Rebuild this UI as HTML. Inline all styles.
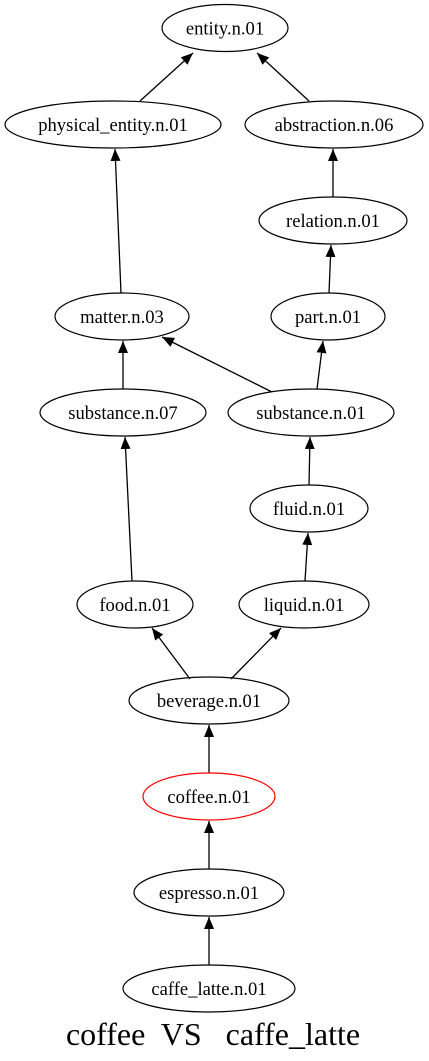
<!DOCTYPE html>
<html><head><meta charset="utf-8"><style>
html,body{margin:0;padding:0;background:#fff;}
svg{display:block;}
text{font-family:"Liberation Serif",serif;font-size:18.6px;}
</style></head><body>
<svg width="429" height="1061" viewBox="0 0 429 1061" xmlns="http://www.w3.org/2000/svg">
<defs><marker id="a" markerUnits="userSpaceOnUse" markerWidth="12" markerHeight="10" refX="12" refY="5" orient="auto"><path d="M0,0 L12,5 L0,10 z" fill="#000"/></marker></defs>
<g stroke="#000" stroke-width="1.3" fill="none" marker-end="url(#a)">
<line x1="140" y1="101" x2="193" y2="53"/>
<line x1="309" y1="101" x2="257" y2="53"/>
<line x1="121" y1="293" x2="115" y2="149"/>
<line x1="333" y1="197" x2="333" y2="149"/>
<line x1="329" y1="293" x2="331" y2="245"/>
<line x1="123" y1="389" x2="123" y2="341"/>
<line x1="272" y1="392" x2="162" y2="337"/>
<line x1="317" y1="389" x2="323" y2="341"/>
<line x1="309" y1="485" x2="310" y2="437"/>
<line x1="132" y1="581" x2="125" y2="437"/>
<line x1="305" y1="581" x2="308" y2="533"/>
<line x1="190" y1="679" x2="152" y2="628"/>
<line x1="231" y1="679" x2="281" y2="628"/>
<line x1="209" y1="773" x2="209" y2="725"/>
<line x1="209" y1="869" x2="209" y2="821"/>
<line x1="209" y1="965" x2="209" y2="917"/>
</g>
<g stroke="#000" stroke-width="1.2" fill="none">
<ellipse cx="225" cy="28" rx="63" ry="23.5"/>
<ellipse cx="113" cy="124.5" rx="108" ry="23.5"/>
<ellipse cx="334" cy="124.5" rx="89" ry="23.5"/>
<ellipse cx="333" cy="220.5" rx="74" ry="23.5"/>
<ellipse cx="122" cy="316.5" rx="67" ry="23.5"/>
<ellipse cx="328" cy="316.5" rx="57" ry="23.5"/>
<ellipse cx="123" cy="412.5" rx="83" ry="23.5"/>
<ellipse cx="311" cy="412.5" rx="83" ry="23.5"/>
<ellipse cx="309" cy="508.5" rx="59" ry="23.5"/>
<ellipse cx="135" cy="604.5" rx="58" ry="23.5"/>
<ellipse cx="304" cy="604.5" rx="65" ry="23.5"/>
<ellipse cx="209" cy="700.5" rx="80" ry="23.5"/>
<ellipse cx="209" cy="796.5" rx="66" ry="23.5" stroke="#f00"/>
<ellipse cx="209" cy="892.5" rx="75" ry="23.5"/>
<ellipse cx="209" cy="988.5" rx="86" ry="23.5"/>
</g>
<g text-anchor="middle">
<text x="225" y="34.5">entity.n.01</text>
<text x="113" y="131">physical_entity.n.01</text>
<text x="334" y="131">abstraction.n.06</text>
<text x="333" y="227">relation.n.01</text>
<text x="122" y="323">matter.n.03</text>
<text x="328" y="323">part.n.01</text>
<text x="123" y="419">substance.n.07</text>
<text x="311" y="419">substance.n.01</text>
<text x="309" y="515">fluid.n.01</text>
<text x="135" y="611">food.n.01</text>
<text x="304" y="611">liquid.n.01</text>
<text x="209" y="707">beverage.n.01</text>
<text x="209" y="803">coffee.n.01</text>
<text x="209" y="899">espresso.n.01</text>
<text x="209" y="995">caffe_latte.n.01</text>
<text x="213" y="1045" style="font-size:32px" xml:space="preserve">coffee  VS   caffe_latte</text>
</g>
</svg>
</body></html>
